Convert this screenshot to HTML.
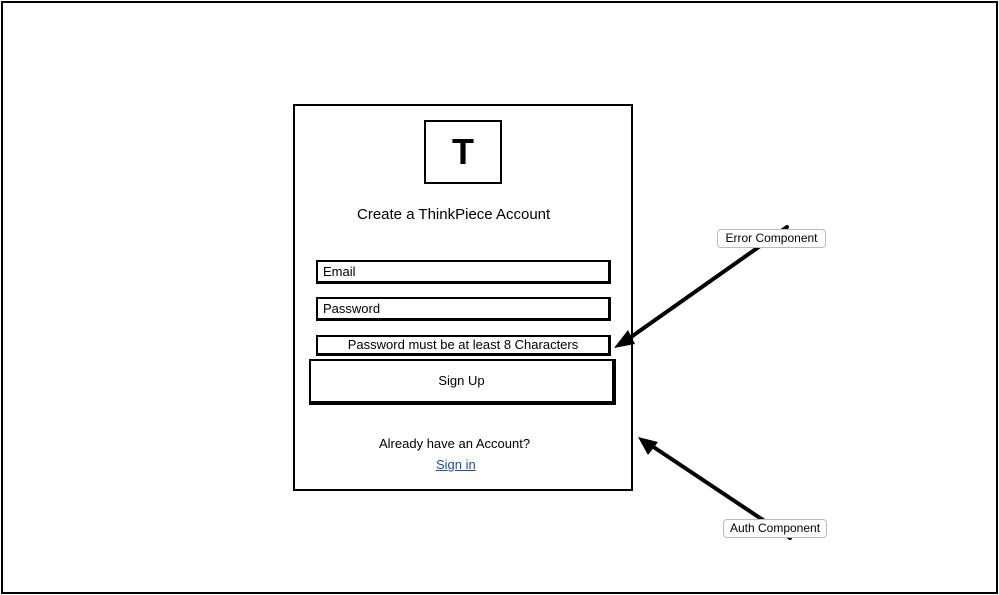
<!DOCTYPE html>
<html><head><style>
body{margin:0;width:999px;height:595px;background:#fff;position:relative;overflow:hidden;font-family:"Liberation Sans",sans-serif;color:#000}
.a{position:absolute;box-sizing:border-box}
.t{position:absolute;font-size:13px;white-space:nowrap}
</style></head><body>
<div class="a" style="left:1px;top:1px;width:997px;height:593px;border:2px solid #000"></div>
<div class="a" style="left:293px;top:104px;width:340px;height:387px;border:2px solid #000"></div>
<div class="a" style="left:424px;top:120px;width:78px;height:64px;border:2px solid #000;font-size:36px;font-weight:bold;text-align:center;line-height:60px">T</div>
<div class="t" style="left:357px;top:206px;font-size:15px">Create a ThinkPiece Account</div>
<div class="a" style="left:316px;top:260px;width:295px;height:24px;border:2px solid #000;border-right-width:3px;border-bottom-width:3px;font-size:13px;padding-left:5px;line-height:19px">Email</div>
<div class="a" style="left:316px;top:297px;width:295px;height:24px;border:2px solid #000;border-right-width:3px;border-bottom-width:3px;font-size:13px;padding-left:5px;line-height:19px">Password</div>
<div class="a" style="left:316px;top:335px;width:295px;height:21px;border:2px solid #000;border-right-width:3px;border-bottom-width:3px;font-size:13px;text-align:center;line-height:16px">Password must be at least 8 Characters</div>
<div class="a" style="left:309px;top:359px;width:307px;height:46px;border:2px solid #000;border-right-width:4px;border-bottom-width:4px;font-size:13px;text-align:center;line-height:40px">Sign Up</div>
<div class="t" style="left:379px;top:436px">Already have an Account?</div>
<div class="t" style="left:436px;top:457px;color:#1a4fa0;text-decoration:underline">Sign in</div>
<svg class="a" style="left:0;top:0" width="999" height="595">
<g stroke="#000" stroke-width="4" fill="none" stroke-linecap="round">
<line x1="787" y1="227" x2="624" y2="342"/>
<line x1="790" y1="538" x2="646" y2="442"/>
</g>
<polygon points="614,348 628,330 635,344" fill="#000"/>
<polygon points="638,437 658,442 648,455" fill="#000"/>
</svg>
<div class="a" style="left:717px;top:229px;width:109px;height:19px;border:1px solid #bbb;border-radius:4px;background:#fff;font-size:12px;text-align:center;line-height:17px">Error Component</div>
<div class="a" style="left:723px;top:519px;width:104px;height:19px;border:1px solid #bbb;border-radius:4px;background:#fff;font-size:12px;text-align:center;line-height:17px">Auth Component</div>
</body></html>
